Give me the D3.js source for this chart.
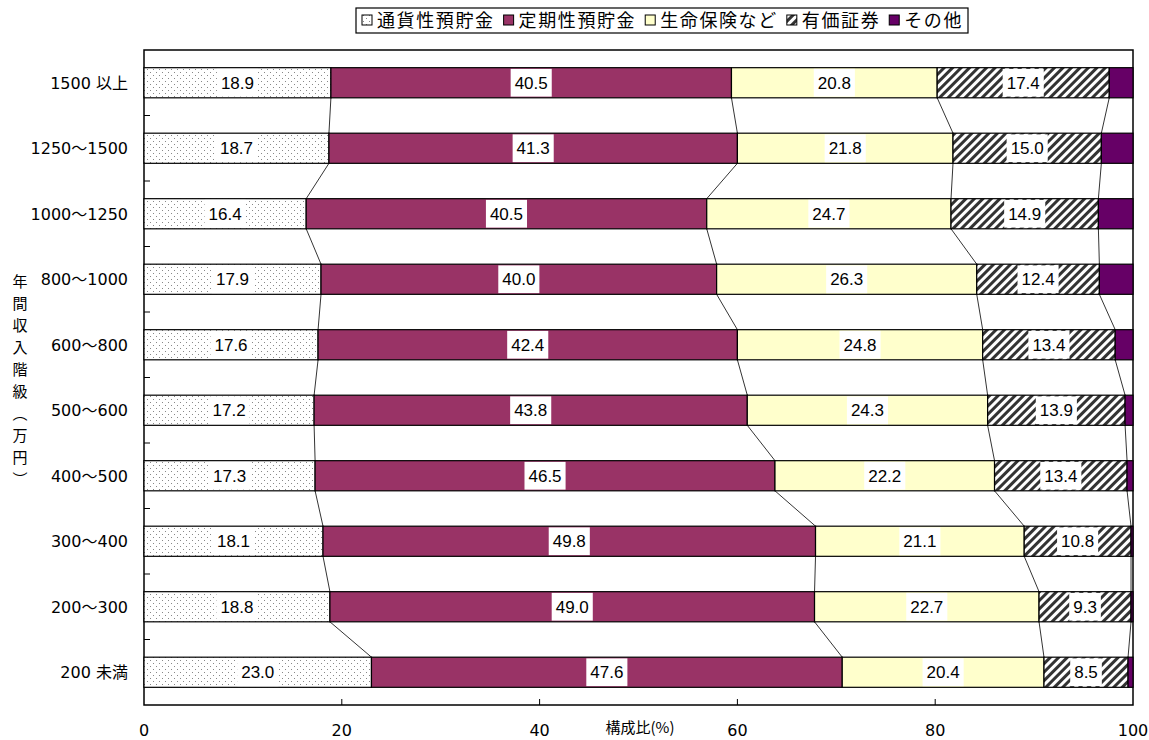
<!DOCTYPE html>
<html>
<head>
<meta charset="utf-8">
<script src="https://cdn.jsdelivr.net/npm/d3@7"></script>
<style>
  body { margin: 0; background: #fff; }
  text { font-family: "Liberation Sans Narrow", "Liberation Sans", Arial, sans-serif; }
  .jp { font-family: "Noto Sans CJK JP", sans-serif; }
  .num { font-family: "DejaVu Sans", "Noto Sans CJK JP", sans-serif; }
</style>
</head>
<body>
<div class="chart"></div>
<script>
"use strict";

const categories = ["1500 以上", "1250〜1500", "1000〜1250", "800〜1000", "600〜800",
    "500〜600", "400〜500", "300〜400", "200〜300", "200 未満"];
const series_names = ["通貨性預貯金", "定期性預貯金", "生命保険など", "有価証券", "その他"];
const liquid_deposits = [18.9, 18.7, 16.4, 17.9, 17.6, 17.2, 17.3, 18.1, 18.8, 23.0];
const time_deposits = [40.5, 41.3, 40.5, 40.0, 42.4, 43.8, 46.5, 49.8, 49.0, 47.6];
const life_insurance = [20.8, 21.8, 24.7, 26.3, 24.8, 24.3, 22.2, 21.1, 22.7, 20.4];
const securities = [17.4, 15.0, 14.9, 12.4, 13.4, 13.9, 13.4, 10.8, 9.3, 8.5];
const others = [2.4, 3.2, 3.5, 3.4, 1.8, 0.8, 0.6, 0.2, 0.2, 0.5];
const x_ticks = [0, 20, 40, 60, 80, 100];

window.onload = () => main();

function main() {
    const config = {
        width: 1149, height: 740,
        left: 144, right: 1133, top: 50, bottom: 705
    };
    draw_chart(config);
}

function draw_chart(config) {
    const series = [liquid_deposits, time_deposits, life_insurance, securities, others];
    const fills = ["url(#dots)", "#993366", "#ffffcc", "url(#hatch)", "#660066"];
    const show_label = [true, true, true, true, false];

    const svg = d3.select(".chart").append("svg")
        .attr("width", config.width)
        .attr("height", config.height);

    const defs = svg.append("defs");
    const dots = defs.append("pattern").attr("id", "dots")
        .attr("patternUnits", "userSpaceOnUse").attr("width", 6).attr("height", 6);
    dots.append("rect").attr("width", 6).attr("height", 6).attr("fill", "#fff");
    dots.append("rect").attr("x", 0).attr("y", 0).attr("width", 1).attr("height", 1).attr("fill", "#888");
    dots.append("rect").attr("x", 3).attr("y", 3).attr("width", 1).attr("height", 1).attr("fill", "#888");

    const hatch = defs.append("pattern").attr("id", "hatch")
        .attr("patternUnits", "userSpaceOnUse").attr("width", 6).attr("height", 6)
        .attr("patternTransform", "rotate(45)");
    hatch.append("rect").attr("width", 6).attr("height", 6).attr("fill", "#fff");
    hatch.append("rect").attr("x", 0).attr("width", 3).attr("height", 6).attr("fill", "#333");

    const x = d3.scaleLinear().domain([0, 100]).range([config.left, config.right]);
    const y = d3.scaleBand().domain(categories).range([config.top, config.bottom]).paddingInner(0.54).paddingOuter(0.27);

    // stacked table
    const rows = categories.map((c, i) => {
        const row = { cat: c };
        series_names.forEach((s, k) => row[s] = series[k][i]);
        return row;
    });
    const stacked = d3.stack().keys(series_names)(rows);

    // plot frame
    svg.append("rect")
        .attr("x", config.left).attr("y", config.top)
        .attr("width", config.right - config.left).attr("height", config.bottom - config.top)
        .attr("fill", "none").attr("stroke", "#000").attr("stroke-width", 1.5);

    // y ticks at band boundaries (inside the frame)
    const step = y.step();
    d3.range(1, categories.length).forEach(i => {
        const yy = config.top + i * step;
        svg.append("line").attr("x1", config.left).attr("x2", config.left + 6)
            .attr("y1", yy).attr("y2", yy).attr("stroke", "#000");
    });

    // x ticks inside the frame
    x_ticks.slice(1, -1).forEach(t => {
        svg.append("line").attr("x1", x(t)).attr("x2", x(t))
            .attr("y1", config.bottom).attr("y2", config.bottom - 6).attr("stroke", "#000");
    });

    // connecting lines between stacked boundaries
    for (let k = 0; k < 4; k++) {
        for (let i = 0; i < categories.length - 1; i++) {
            const a = stacked[k][i][1], b = stacked[k][i + 1][1];
            svg.append("line")
                .attr("x1", x(a)).attr("y1", y(categories[i]) + y.bandwidth())
                .attr("x2", x(b)).attr("y2", y(categories[i + 1]))
                .attr("stroke", "#000").attr("stroke-width", 0.8);
        }
    }

    // bars
    stacked.forEach((layer, k) => {
        svg.append("g").selectAll("rect").data(layer).join("rect")
            .attr("x", d => x(d[0]))
            .attr("y", d => y(d.data.cat))
            .attr("width", d => x(d[1]) - x(d[0]))
            .attr("height", y.bandwidth())
            .attr("fill", fills[k])
            .attr("stroke", "#000").attr("stroke-width", 1.2);
    });

    // value labels
    stacked.forEach((layer, k) => {
        if (!show_label[k]) return;
        layer.forEach(d => {
            const cx = (x(d[0]) + x(d[1])) / 2;
            const cy = y(d.data.cat) + y.bandwidth() / 2;
            const label = d3.format(".1f")(d[1] - d[0]);
            const g = svg.append("g");
            const t = g.append("text").attr("x", cx).attr("y", cy + 6)
                .attr("text-anchor", "middle").attr("font-size", 17).text(label);
            const w = t.node().getComputedTextLength();
            g.insert("rect", "text")
                .attr("x", cx - w / 2 - 4).attr("y", y(d.data.cat) + 1.2)
                .attr("width", w + 8).attr("height", y.bandwidth() - 2.4)
                .attr("fill", "#fff");
        });
    });

    // category labels
    svg.append("g").selectAll("text").data(categories).join("text")
        .attr("class", "num")
        .attr("x", config.left - 16)
        .attr("y", d => y(d) + y.bandwidth() / 2 + 6)
        .attr("text-anchor", "end").attr("font-size", 16).text(d => d);

    // x tick labels
    svg.append("g").selectAll("text").data(x_ticks).join("text")
        .attr("class", "num")
        .attr("x", d => x(d)).attr("y", 736)
        .attr("text-anchor", "middle").attr("font-size", 16).text(d => d);

    svg.append("text").attr("class", "jp")
        .attr("x", 640).attr("y", 733).attr("text-anchor", "middle")
        .attr("font-size", 15).text("構成比(%)");

    // vertical y title
    const title_chars = ["年", "間", "収", "入", "階", "級", "︵", "万", "円", "︶"];
    svg.append("g").selectAll("text").data(title_chars).join("text")
        .attr("class", "jp")
        .attr("x", 20).attr("y", (d, i) => 287 + i * 22)
        .attr("text-anchor", "middle").attr("font-size", 15).text(d => d);

    // legend
    const legend = svg.append("g");
    legend.append("rect").attr("x", 356).attr("y", 8).attr("width", 612).attr("height", 25)
        .attr("fill", "#fff").attr("stroke", "#000").attr("stroke-width", 1.2);
    let lx = 362;
    series_names.forEach((s, k) => {
        legend.append("rect").attr("x", lx).attr("y", 15).attr("width", 10).attr("height", 10)
            .attr("fill", fills[k]).attr("stroke", "#000").attr("stroke-width", 1);
        const t = legend.append("text").attr("class", "jp")
            .attr("x", lx + 15).attr("y", 27).attr("font-size", 18)
            .attr("letter-spacing", 1.6).text(s);
        lx += 15 + t.node().getComputedTextLength() + 9;
    });
}
</script>
</body>
</html>
